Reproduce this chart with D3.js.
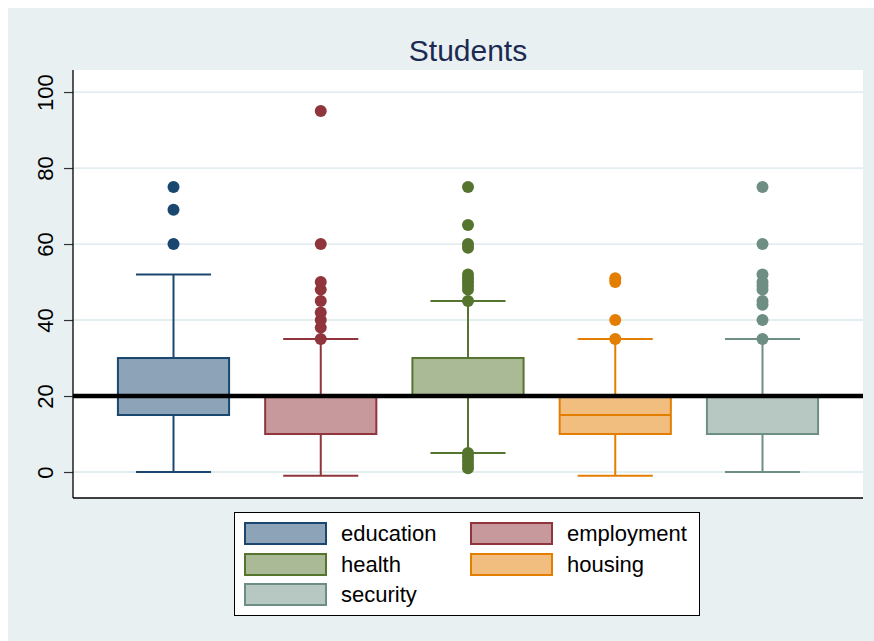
<!DOCTYPE html>
<html>
<head>
<meta charset="utf-8">
<script src="https://cdn.jsdelivr.net/npm/d3@7"></script>
<style>
  html, body { margin: 0; padding: 0; background: #ffffff; }
  svg { display: block; }
  text { font-family: "Liberation Sans", Arial, Helvetica, sans-serif; }
</style>
</head>
<body>
<svg id="chart" width="874" height="641"></svg>
<script>
// Box-plot summaries per category
const categories = ["education", "employment", "health", "housing", "security"];
const q1 = [15, 10, 20, 10, 10];
const median = [20, 20, 20, 15, 20];
const q3 = [30, 20, 30, 20, 20];
const whiskerLow = [0, -1, 5, -1, 0];
const whiskerHigh = [52, 35, 45, 35, 35];
const outliers = [
  [60, 69, 75],
  [35, 38, 40, 42, 45, 48, 50, 60, 95],
  [1, 2, 3, 4, 5, 45, 48, 49, 50, 51, 52, 59, 60, 65, 75],
  [35, 40, 50, 51],
  [35, 40, 44, 45, 48, 49, 50, 52, 60, 75]
];
const yTicks = [0, 20, 40, 60, 80, 100];
const referenceValue = 20;
const titleText = "Students";

// Stata s2color-style line colours and their lighter box fills
const lineColors = ["#1a476f", "#90353b", "#55752f", "#e37e00", "#6e8e84"];
const fillColors = ["#8da3b8", "#c8999c", "#aaba97", "#f1be80", "#b7c7c2"];

const svg = d3.select("#chart");
const W = 874, H = 641;
const plot = { left: 73, right: 863, top: 70, bottom: 498 };

// Graph region background
svg.append("rect").attr("x", 8).attr("y", 8).attr("width", W - 8).attr("height", H - 8)
  .attr("fill", "#e8f0f2");

// Plot region
svg.append("rect").attr("x", plot.left).attr("y", plot.top)
  .attr("width", plot.right - plot.left).attr("height", plot.bottom - plot.top)
  .attr("fill", "#ffffff");

const x = d3.scalePoint().domain(categories).range([plot.left, plot.right]).padding(0.6825);
const step = x.step();
const y = d3.scaleLinear().domain([-6.84, 105.8]).range([plot.bottom, plot.top]);

const boxW = step * 0.755;
const capW = step * 0.51;

// Grid lines
svg.append("g").selectAll("line").data(yTicks).join("line")
  .attr("x1", plot.left).attr("x2", plot.right)
  .attr("y1", d => y(d)).attr("y2", d => y(d))
  .attr("stroke", "#e4edf0").attr("stroke-width", 1.8);

// Title
svg.append("text").attr("x", (plot.left + plot.right) / 2).attr("y", 61)
  .attr("text-anchor", "middle").attr("font-size", 30).attr("fill", "#1c2a52")
  .text(titleText);

// Boxes, whiskers and outliers
const groups = svg.append("g").selectAll("g").data(categories).join("g");

groups.each(function (cat, i) {
  const g = d3.select(this);
  const cx = x(cat);
  const col = lineColors[i];

  // whiskers
  g.append("line").attr("x1", cx).attr("x2", cx)
    .attr("y1", y(q3[i])).attr("y2", y(whiskerHigh[i]))
    .attr("stroke", col).attr("stroke-width", 2);
  g.append("line").attr("x1", cx).attr("x2", cx)
    .attr("y1", y(q1[i])).attr("y2", y(whiskerLow[i]))
    .attr("stroke", col).attr("stroke-width", 2);
  [whiskerHigh[i], whiskerLow[i]].forEach(v => {
    g.append("line").attr("x1", cx - capW / 2).attr("x2", cx + capW / 2)
      .attr("y1", y(v)).attr("y2", y(v))
      .attr("stroke", col).attr("stroke-width", 2);
  });

  // box
  g.append("rect").attr("x", cx - boxW / 2).attr("y", y(q3[i]))
    .attr("width", boxW).attr("height", y(q1[i]) - y(q3[i]))
    .attr("fill", fillColors[i]).attr("stroke", col).attr("stroke-width", 2);

  // median
  g.append("line").attr("x1", cx - boxW / 2).attr("x2", cx + boxW / 2)
    .attr("y1", y(median[i])).attr("y2", y(median[i]))
    .attr("stroke", col).attr("stroke-width", 2);

  // outside values
  g.selectAll("circle").data(outliers[i]).join("circle")
    .attr("cx", cx).attr("cy", d => y(d)).attr("r", 6)
    .attr("fill", col);
});

// Reference line
svg.append("line").attr("x1", plot.left).attr("x2", plot.right)
  .attr("y1", y(referenceValue)).attr("y2", y(referenceValue))
  .attr("stroke", "#000000").attr("stroke-width", 4.5);

// Y axis
const yAxis = d3.axisLeft(y).tickValues(yTicks).tickSize(9).tickPadding(0).tickFormat(d3.format("d"));
const ax = svg.append("g").attr("transform", `translate(${plot.left},0)`).call(yAxis);
ax.select(".domain").remove();
ax.selectAll(".tick line").attr("stroke", "#333333").attr("stroke-width", 1.2);
ax.selectAll(".tick text")
  .attr("font-size", 22).attr("fill", "#000000")
  .attr("text-anchor", "middle")
  .attr("transform", "translate(-28,0) rotate(-90)")
  .attr("x", 0).attr("dy", "0.35em");

// Axis lines (left and bottom)
svg.append("line").attr("x1", plot.left).attr("x2", plot.left)
  .attr("y1", plot.top).attr("y2", plot.bottom).attr("stroke", "#000").attr("stroke-width", 1.3);
svg.append("line").attr("x1", plot.left).attr("x2", plot.right)
  .attr("y1", plot.bottom).attr("y2", plot.bottom).attr("stroke", "#000").attr("stroke-width", 1.3);

// Legend
const legend = svg.append("g");
legend.append("rect").attr("x", 234.5).attr("y", 512.5).attr("width", 465).attr("height", 103)
  .attr("fill", "#ffffff").attr("stroke", "#000000").attr("stroke-width", 1);

const colX = [244, 470];
const rowY = [522, 553, 583];
categories.forEach((cat, i) => {
  const cx0 = colX[i % 2];
  const ry = rowY[Math.floor(i / 2)];
  legend.append("rect").attr("x", cx0 + 1).attr("y", ry + 1).attr("width", 81).attr("height", 21)
    .attr("fill", fillColors[i]).attr("stroke", lineColors[i]).attr("stroke-width", 2);
  legend.append("text").attr("x", cx0 + 97).attr("y", ry + 11.5 + 7.8)
    .attr("font-size", 22).attr("fill", "#000000").text(cat);
});
</script>
</body>
</html>
